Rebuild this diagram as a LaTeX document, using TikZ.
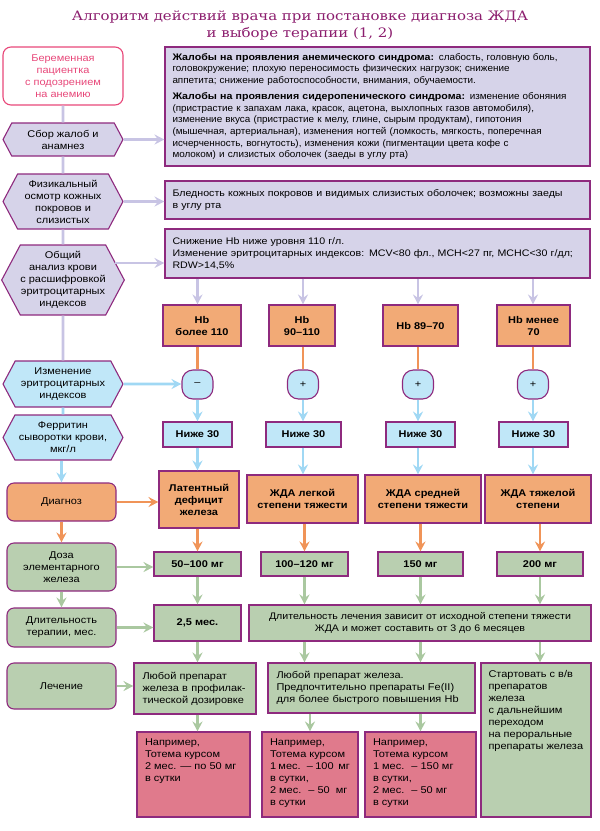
\documentclass[tikz,border=0pt]{standalone}
\usepackage{fontspec}
\setmainfont{Liberation Sans}[FakeStretch=1.12]
\newfontfamily\squeezed{Liberation Sans}[FakeStretch=1.04,BoldFeatures={FakeStretch=1.12}]
\newfontfamily\titlefont{DejaVu Serif}[FakeStretch=1.15]
\usetikzlibrary{shapes.symbols,arrows.meta}

\definecolor{purpleframe}{RGB}{142,42,126}
\definecolor{lilac}{RGB}{214,211,233}
\definecolor{lilacdark}{RGB}{200,196,228}
\definecolor{peach}{RGB}{242,170,118}
\definecolor{peachdark}{RGB}{240,148,88}
\definecolor{skyblue}{RGB}{192,231,248}
\definecolor{skybluedark}{RGB}{160,216,244}
\definecolor{sage}{RGB}{185,207,176}
\definecolor{sagedark}{RGB}{170,200,160}
\definecolor{coral}{RGB}{224,122,140}
\definecolor{roseink}{RGB}{232,72,122}
\definecolor{plum}{RGB}{140,30,110}

\begin{document}
\begin{tikzpicture}
	[x=1pt,y=-1pt,
		every node/.style={font=\fontsize{9.8}{12}\selectfont,inner sep=0pt,align=center},
		framed/.style={draw=purpleframe,line width=1.1pt},
		boldtext/.style={font=\bfseries\fontsize{9.8}{12}\selectfont},
		stage/.style={framed,signal,signal to=west and east,signal pointer angle=124,
			fill=lilac,minimum width=120pt,minimum height=#1},
		sidebox/.style={framed,rounded corners=7pt,minimum width=109pt,minimum height=#1},
		notebox/.style={framed,fill=lilac,align=left,inner xsep=7.5pt,text width=410pt,
			font=\fontsize{9.5}{11.7}\selectfont},
		hbbox/.style={framed,boldtext,fill=peach,minimum height=41pt,minimum width=#1},
		signbox/.style={framed,fill=skyblue,rounded corners=11pt,minimum width=31pt,
			minimum height=29pt},
		lowbox/.style={framed,boldtext,fill=skyblue,minimum height=25pt,minimum width=#1},
		gradebox/.style={framed,boldtext,fill=peach,minimum width=#1},
		dosebox/.style={framed,boldtext,fill=sage,minimum height=24pt,minimum width=#1},
		drugbox/.style={framed,fill=sage,align=left,inner xsep=8.5pt},
		regimenbox/.style={framed,fill=coral,align=left,inner xsep=8pt,inner ysep=7pt},
		wire/.style={line width=2.6pt},
		tip/.style={wire,-{Stealth[length=10pt,width=10pt,inset=3.5pt]}}]
	\tikzstyle{patientbox}=[draw=roseink,line width=1.1pt,fill=white,text=roseink,
		rounded corners=8pt,minimum width=120pt,minimum height=58pt]

	\useasboundingbox (0,0) rectangle (600,831);

	\node[font=\titlefont\fontsize{13}{17}\selectfont,text=plum] (title) at (300,25.5)
		{Алгоритм действий врача при постановке диагноза ЖДА\\и выборе терапии (1, 2)};

	% left column
	\node[patientbox] (patient) at (63,76) {Беременная\\пациентка\\с подозрением\\на анемию};
	\node[stage=33pt] (complaints) at (63,139.5) {Сбор жалоб и\\анамнез};
	\node[stage=55pt] (exam) at (63,201.5) {Физикальный\\осмотр кожных\\покровов и\\слизистых};
	\node[stage=70pt] (cbc) at (63,280) {Общий\\анализ крови\\с расшифровкой\\эритроцитарных\\индексов};
	\node[stage=46pt,fill=skyblue] (indices) at (63,384) {Изменение\\эритроцитарных\\индексов};
	\node[stage=45pt,fill=skyblue] (ferritin) at (63,437.5) {Ферритин\\сыворотки крови,\\мкг/л};
	\node[sidebox=38pt,fill=peach] (diagnosis) at (61.5,502) {Диагноз};
	\node[sidebox=48pt,fill=sage] (dose) at (61.5,567) {Доза\\элементарного\\железа};
	\node[sidebox=39pt,fill=sage] (duration) at (61.5,627.5) {Длительность\\терапии, мес.};
	\node[sidebox=46pt,fill=sage] (therapy) at (61.5,686) {Лечение};

	% findings
	\node[notebox,minimum height=119pt,font=\squeezed\fontsize{9.5}{11.7}\selectfont]
		(rcomplaints) at (377.5,106.5)
		{\textbf{Жалобы на проявления анемического синдрома:} слабость, головную боль,\\
		головокружение; плохую переносимость физических нагрузок; снижение\\
		аппетита; снижение работоспособности, внимания, обучаемости.\\[4pt]
		\textbf{Жалобы на проявления сидеропенического синдрома:} изменение обоняния\\
		(пристрастие к запахам лака, красок, ацетона, выхлопных газов автомобиля),\\
		изменение вкуса (пристрастие к мелу, глине, сырым продуктам), гипотония\\
		(мышечная, артериальная), изменения ногтей (ломкость, мягкость, поперечная\\
		исчерченность, вогнутость), изменения кожи (пигментации цвета кофе с\\
		молоком) и слизистых оболочек (заеды в углу рта)};
	\node[notebox,minimum height=38pt] (rexam) at (377.5,200)
		{Бледность кожных покровов и видимых слизистых оболочек; возможны заеды\\
		в углу рта};
	\node[notebox,minimum height=49pt] (rcbc) at (377.5,253.5)
		{Снижение Hb ниже уровня 110 г/л.\\
		Изменение эритроцитарных индексов: MCV<80 фл., MCH<27 пг, MCHC<30 г/дл;\\
		RDW>14,5\%};

	% Hb grades
	\node[hbbox=78pt] (hb1) at (202,325.5) {Hb\\более 110};
	\node[hbbox=66pt] (hb2) at (302,325.5) {Hb\\90–110};
	\node[hbbox=75pt] (hb3) at (420.5,325.5) {Hb 89–70};
	\node[hbbox=73pt] (hb4) at (533.5,325.5) {Hb менее\\70};

	\node[signbox] (sign1) at (197.5,384.5) {–};
	\node[signbox] (sign2) at (303,384.5) {+};
	\node[signbox] (sign3) at (418,384.5) {+};
	\node[signbox] (sign4) at (533,384.5) {+};

	\node[lowbox=69pt] (low1) at (197.5,434.5) {Ниже 30};
	\node[lowbox=75pt] (low2) at (303.5,434.5) {Ниже 30};
	\node[lowbox=69pt] (low3) at (420.5,434.5) {Ниже 30};
	\node[lowbox=69pt] (low4) at (533.5,434.5) {Ниже 30};

	\node[gradebox=80pt,minimum height=57pt] (ida1) at (199,499.5) {Латентный\\дефицит\\железа};
	\node[gradebox=111pt,minimum height=48pt] (ida2) at (302.5,499) {ЖДА легкой\\степени тяжести};
	\node[gradebox=116pt,minimum height=48pt] (ida3) at (423,499) {ЖДА средней\\степени тяжести};
	\node[gradebox=106pt,minimum height=48pt] (ida4) at (538,499) {ЖДА тяжелой\\степени};

	\node[dosebox=87pt] (mg1) at (197.5,564) {50–100 мг};
	\node[dosebox=87pt] (mg2) at (304.5,564) {100–120 мг};
	\node[dosebox=85pt] (mg3) at (420.5,564) {150 мг};
	\node[dosebox=86pt] (mg4) at (540,564) {200 мг};

	\node[dosebox=87pt,minimum height=36pt] (months) at (197.5,623) {2,5 мес.};
	\node[framed,fill=sage,minimum width=342pt,minimum height=36pt,
		font=\fontsize{9.5}{11.7}\selectfont] (course) at (420,623)
		{Длительность лечения зависит от исходной степени тяжести\\
		ЖДА и может составить от 3 до 6 месяцев};

	% treatment
	\node[drugbox,text width=105pt,minimum height=51pt] (drug1) at (195,688.5)
		{Любой препарат\\железа в профилак-\\тической дозировке};
	\node[drugbox,text width=190pt,minimum height=50pt] (drug2) at (371.5,688)
		{Любой препарат железа.\\Предпочтительно препараты Fe(II)\\для более быстрого повышения Hb};
	\node[drugbox,inner xsep=7.5pt,inner ysep=7pt] (drug3) at (536,740)
		{\parbox[c][140pt][t]{95pt}{Стартовать с в/в\\препаратов\\железа\\с дальнейшим\\переходом\\на пероральные\\препараты железа}};

	\node[regimenbox] (regimen1) at (193.5,774.5)
		{\parbox[c][71pt][t]{97pt}{Например,\\Тотема курсом\\2 мес. — по 50 мг\\в сутки}};
	\node[regimenbox] (regimen2) at (310,774.5)
		{\parbox[c][71pt][t]{80pt}{Например,\\Тотема курсом\\1 мес. \ – 100 \ мг\\в сутки,\\2 мес. \ – 50 \ мг\\в сутки}};
	\node[regimenbox] (regimen3) at (420.5,774.5)
		{\parbox[c][71pt][t]{95pt}{Например,\\Тотема курсом\\1 мес. \ – 150 мг\\в сутки,\\2 мес. \ – 50 мг\\в сутки}};

	% connectors, left column
	\draw[wire,lilacdark] (patient) -- (complaints);
	\draw[wire,lilacdark] (complaints) -- (exam);
	\draw[wire,lilacdark] (exam) -- (cbc);
	\draw[wire,lilacdark] (cbc) -- (indices);
	\draw[wire,skybluedark] (indices) -- (ferritin);
	\draw[tip,skybluedark] (ferritin.south -| diagnosis) -- (diagnosis.north);
	\draw[tip,peachdark] (diagnosis) -- (dose);
	\draw[tip,sagedark] (dose) -- (duration);

	\draw[tip,lilacdark] (complaints) -- (complaints -| rcomplaints.west);
	\draw[tip,lilacdark] (exam) -- (exam -| rexam.west);
	\path (cbc.east) ++(-10,-17) coordinate (cbcout);
	\draw[tip,lilacdark] (cbcout) -- (cbcout -| rcbc.west);
	\draw[tip,skybluedark] (indices) -- (indices -| sign1.west);
	\draw[tip,peachdark] (diagnosis) -- (diagnosis -| ida1.west);
	\draw[tip,sagedark] (dose) -- (dose -| mg1.west);
	\draw[tip,sagedark] (duration) -- (duration -| months.west);
	\draw[tip,sagedark] (therapy) -- (therapy -| drug1.west);

	% connectors, columns
	\foreach \i in {1,...,4}{
		\draw[tip,lilacdark] (rcbc.south -| sign\i) -- (sign\i |- hb\i.north);
		\draw[wire,peachdark] (hb\i.south -| sign\i) -- (sign\i);
		\draw[tip,skybluedark] (sign\i) -- (sign\i |- low\i.north);
		\draw[tip,skybluedark] (low\i.south -| sign\i) -- (sign\i |- ida\i.north);
		\draw[tip,peachdark] (mg\i |- ida\i.south) -- (mg\i.north);
	}
	\draw[tip,sagedark] (mg1) -- (months);
	\foreach \i in {2,3,4}
		\draw[tip,sagedark] (mg\i.south) -- (mg\i |- course.north);
	\draw[tip,sagedark] (months.south) -- (months.south |- drug1.north);
	\draw[tip,sagedark] (mg2 |- course.south) -- (mg2 |- drug2.north);
	\draw[tip,sagedark] (mg3 |- course.south) -- (mg3 |- drug2.north);
	\draw[tip,sagedark] (mg4 |- course.south) -- (mg4 |- drug3.north);
	\draw[tip,sagedark] (drug1.south -| months) -- (months |- regimen1.north);
	\draw[tip,sagedark] (regimen2 |- drug2.south) -- (regimen2.north);
	\draw[tip,sagedark] (regimen3 |- drug2.south) -- (regimen3.north);
\end{tikzpicture}
\end{document}
